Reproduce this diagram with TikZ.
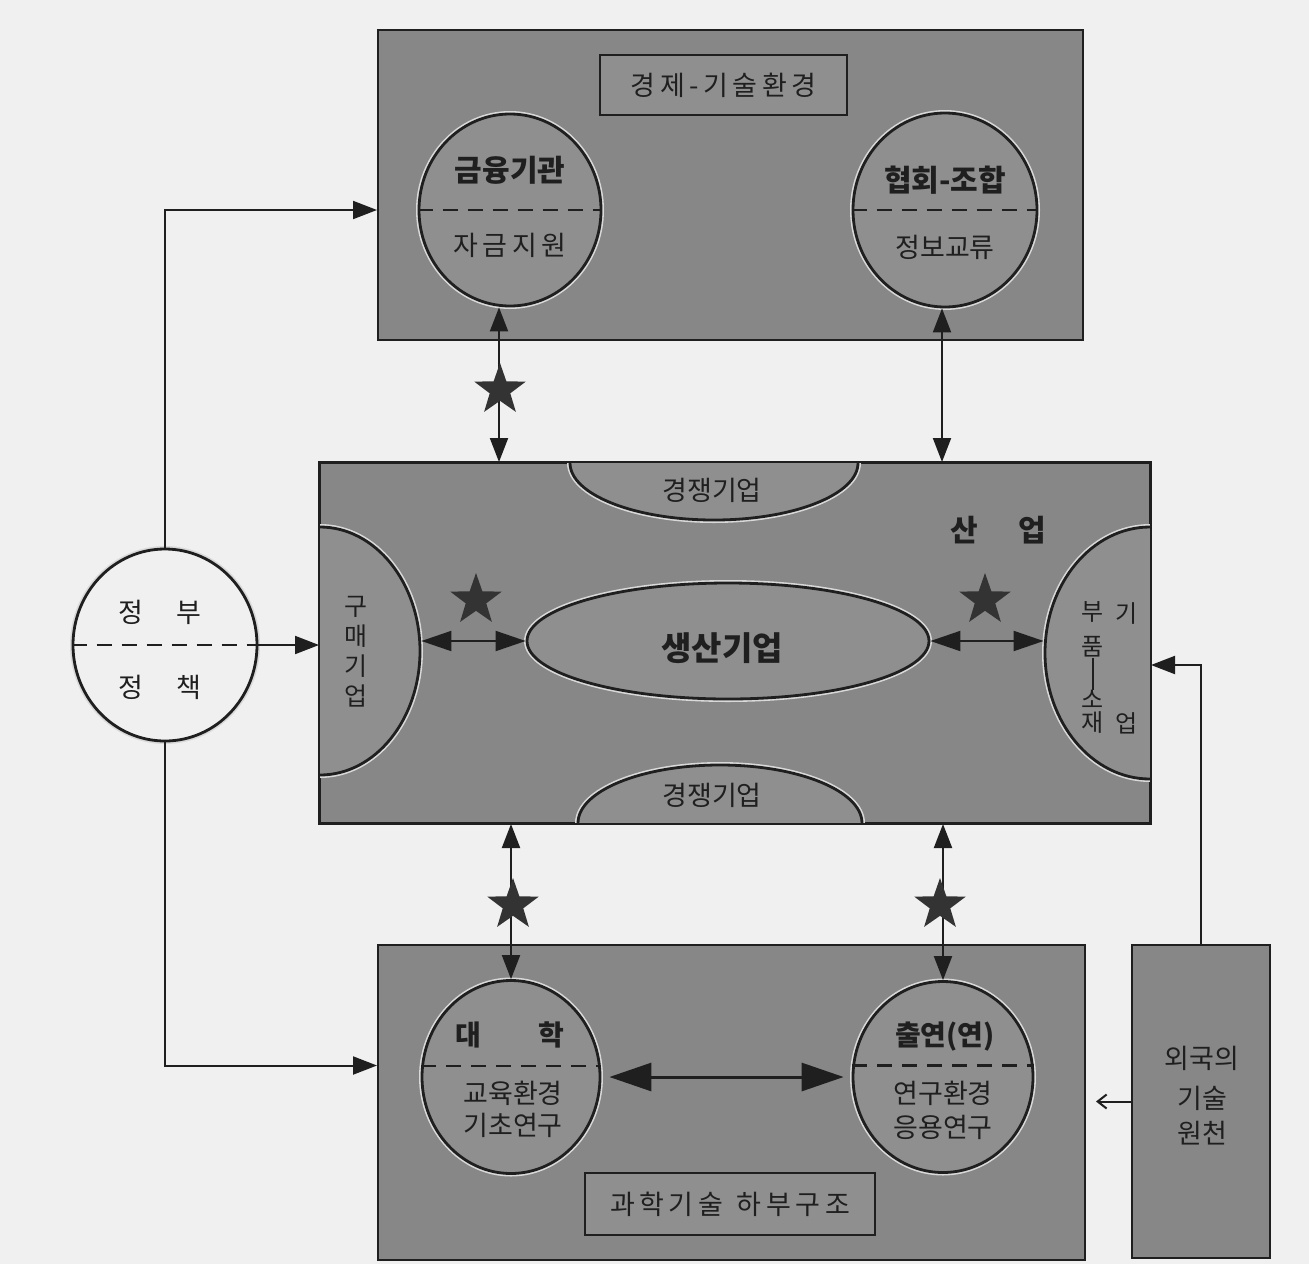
\documentclass[tikz,border=0pt]{standalone}
\usepackage{fontspec}
\newfontfamily\kr{Noto Sans CJK KR}
\usetikzlibrary{shapes.geometric,arrows.meta,calc}
\definecolor{paper}{gray}{0.94}
\definecolor{boxgray}{gray}{0.53}
\definecolor{ingray}{gray}{0.56}
\definecolor{ink}{gray}{0.12}
\tikzset{
 panel/.style={rectangle, draw=ink, line width=2pt, fill=boxgray, inner sep=0},
 titlebox/.style={rectangle, draw=ink, line width=2pt, fill=ingray, inner sep=0, text=ink, font=\kr\fontsize{27}{32}\selectfont},
 oval/.style={ellipse, draw=ink, line width=2.8pt, fill=ingray, inner sep=0, preaction={draw=white!70!gray, line width=6pt}},
 divide/.style={draw=ink, line width=2.8pt, dash pattern=on 15pt off 10pt},
 conn/.style={draw=ink, line width=2pt},
 one/.style={conn, -{Triangle[length=24pt,width=18pt]}},
 two/.style={conn, {Triangle[length=24pt,width=18pt]}-{Triangle[length=24pt,width=18pt]}},
 twomid/.style={conn, {Triangle[length=30pt,width=20pt]}-{Triangle[length=30pt,width=20pt]}},
 twobig/.style={draw=ink, line width=3pt, {Triangle[length=42pt,width=28pt]}-{Triangle[length=42pt,width=28pt]}},
 starmark/.style={star, star points=5, star point ratio=2.5, fill=black!80, draw=none, minimum size=54pt, inner sep=0},
 txt/.style={font=\kr\fontsize{27}{32}\selectfont, text=ink, inner sep=0},
 btxt/.style={font=\kr\bfseries\fontsize{30}{36}\selectfont, text=ink, inner sep=0},
 vch/.style={font=\kr\fontsize{24}{28}\selectfont, text=ink, inner sep=0},
}
\begin{document}
\begin{tikzpicture}[x=1pt,y=-1pt]
\fill[paper] (0,0) rectangle (1309,1264);
\useasboundingbox (0,0) rectangle (1309,1264);

% panels
\node[panel, minimum width=705pt, minimum height=310pt] (top) at (730.5,185) {};
\node[panel, minimum width=830pt, minimum height=360pt] (mid) at (735,643) {};
\node[panel, minimum width=707pt, minimum height=315pt] (bot) at (731.5,1102.5) {};
\node[panel, minimum width=138pt, minimum height=313pt] (frgn) at (1201,1101.5) {};

% top panel
\node[titlebox, minimum width=247pt, minimum height=60pt] (ttl1) at (723.5,85) {경\,제\,-\,기\,술\,환\,경};
\node[oval, minimum width=182pt, minimum height=192pt] (kin) at (510,210) {};
\draw[divide] (kin.west) -- (kin.east);
\node[btxt] (kinA) at (510,170) {금융기관};
\node[txt] (kinB) at (510,245) {자\,금\,지\,원};
\node[oval, minimum width=184pt, minimum height=194pt] (hyup) at (945,210) {};
\draw[divide] (hyup.west) -- (hyup.east);
\node[btxt] (hyupA) at (945,180) {협회-조합};
\node[txt] (hyupB) at (945,247) {정보교류};

% middle panel
\begin{scope}
\clip (mid.north west) rectangle (mid.south east);
\node[oval, minimum width=288pt, minimum height=114pt] (compT) at (714,463) {};
\node[oval, minimum width=284pt, minimum height=116pt] (compB) at (720,823) {};
\node[oval, minimum width=200pt, minimum height=248pt] (buy) at (320,651) {};
\node[oval, minimum width=210pt, minimum height=252pt] (part) at (1150,653) {};
\end{scope}
\draw[draw=ink, line width=2pt] (mid.north west) rectangle (mid.south east);
\node[txt] (compTt) at (712,490) {경쟁기업};
\node[txt] (compBt) at (712,795) {경쟁기업};
\node[oval, minimum width=402pt, minimum height=116pt] (prod) at (728,641) {};
\node[btxt, font=\kr\bfseries\fontsize{33}{38}\selectfont] (prodt) at (722,648) {생산기업};
\node[btxt] (sanup) at (998,530) {산\hspace{40pt}업};
\node[txt, font=\kr\fontsize{25}{30}\selectfont, align=center] (buyt) at (356,652) {구\\매\\기\\업};
\node[vch] (p1) at (1093,612) {부};
\node[vch] (p2) at (1093,647) {품};
\node[vch] (p3) at (1093,699) {소};
\node[vch] (p4) at (1093,723) {재};
\node[vch] (p5) at (1127,614) {기};
\node[vch] (p6) at (1127,723) {업};
\draw[draw=ink, line width=1.8pt] (p2.south) -- (p3.north);
\draw[twomid] (buy.east |- prod.west) -- (prod.west);
\draw[twomid] (prod.east) -- (part.west |- prod.east);

% bottom panel
\node[oval, minimum width=178pt, minimum height=193pt] (univ) at (511,1077) {};
\draw[divide] (univ.173) -- (univ.7);
\node[btxt, font=\kr\bfseries\fontsize{28}{34}\selectfont] (univA) at (510,1035) {대\hspace{57pt}학};
\node[txt] (univB) at (513,1093) {교육환경};
\node[txt] (univC) at (513,1125) {기초연구};
\node[oval, minimum width=180pt, minimum height=191pt] (chul) at (943,1077) {};
\draw[divide] (chul.173) -- (chul.7);
\node[btxt, font=\kr\bfseries\fontsize{28}{34}\selectfont] (chulA) at (945,1037) {출연(연)};
\node[txt] (chulB) at (943,1093) {연구환경};
\node[txt] (chulC) at (943,1127) {응용연구};
\draw[twobig, shorten <=8pt, shorten >=8pt] (univ.east) -- (chul.west);
\node[titlebox, minimum width=290pt, minimum height=62pt] (ttl2) at (730,1204) {과\,학\,기\,술\hspace{14pt}하\,부\,구\,조};

% foreign
\node[txt] (fA) at (1202,1058) {외국의};
\node[txt] (fB) at (1202,1098) {기술};
\node[txt] (fC) at (1202,1133) {원천};

% government
\node[oval, fill=paper, preaction={}, minimum width=184pt, minimum height=192pt] (gov) at (165,645) {};
\draw[divide] (gov.west) -- (gov.east);
\node[txt] (govA) at (160,612) {정\hspace{33pt}부};
\node[txt] (govB) at (160,687) {정\hspace{33pt}책};

% connectors
\draw[one] (gov.north) |- (top.west |- kin.west);
\draw[one] (gov.south) |- ($(bot.west)+(0,-37)$);
\draw[one] (gov.east) -- (mid.west |- gov.east);
\draw[two] ([xshift=-11pt]kin.south |- mid.north) -- ([xshift=-11pt]kin.south);
\draw[two] ([xshift=-3pt]hyup.south |- mid.north) -- ([xshift=-3pt]hyup.south);
\draw[two] (mid.south -| univ.north) -- (univ.north);
\draw[two] (mid.south -| chul.north) -- (chul.north);
\draw[one] (frgn.north) |- ($(mid.east)+(0,22)$);
\draw[conn, -{Straight Barb[length=9pt,width=14pt]}, shorten >=10pt] (frgn.west) -- (bot.east |- frgn.west);

% stars
\node[starmark] (s1) at (500,390) {};
\node[starmark] (s2) at (476,600) {};
\node[starmark] (s3) at (985,600) {};
\node[starmark] (s4) at (513,905) {};
\node[starmark] (s5) at (940,905) {};
\end{tikzpicture}
\end{document}
